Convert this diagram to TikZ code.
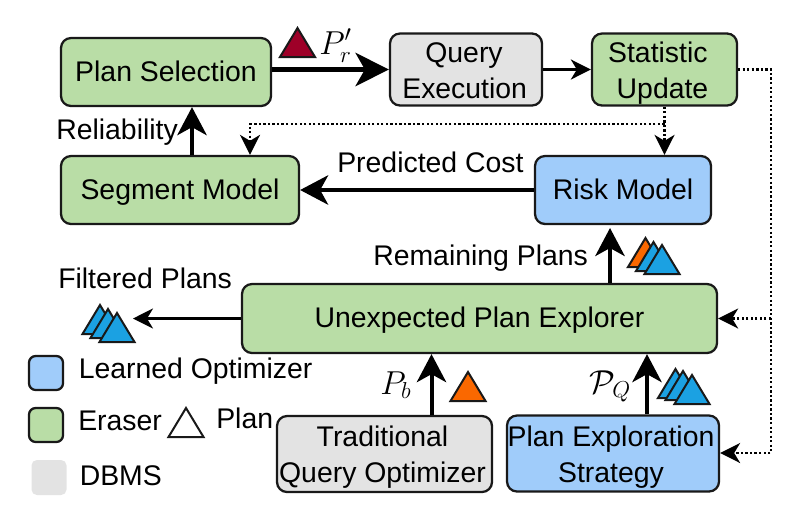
\documentclass[tikz,border=0pt]{standalone}
\usepackage{amsmath,amssymb}
\usepackage{xcolor}
\usepackage{fontspec}
\setmainfont{Liberation Sans}
\usetikzlibrary{arrows.meta, positioning, calc}
\DeclareMathSizes{24.88}{24.88}{17.28}{12}
\definecolor{erasergreen}{HTML}{B9DDA6}
\definecolor{learnedblue}{HTML}{A0CCFA}
\definecolor{dbmsgray}{HTML}{E3E3E3}
\definecolor{planred}{HTML}{9E0028}
\definecolor{planorange}{HTML}{FA6800}
\definecolor{planblue}{HTML}{1BA1E2}
\newdimen\pxu
\pxu=0.75pt
% one plan triangle: visible apex x, apex y, fill colour
\newcommand{\plantri}[3]{\filldraw[fill=#3,draw=black!90,line width=1.5pt,line join=miter] (#1,{#2+2}) -- ({#1+17.5},{#2+31}) -- ({#1-17.5},{#2+31}) -- cycle;}
% one line of a two-line box, set a little low
\newcommand{\boxline}[1]{\raisebox{-2.7pt}[18.9pt][8.1pt]{#1}}
\tikzset{
  box/.style={draw=black!90,line width=1.7pt,rounded corners=7.5pt,inner sep=0pt,align=center,
    font=\fontsize{21.3}{27}\selectfont},
  oneline/.style={text height=18pt,text depth=4pt},
  eraserbox/.style={box,fill=erasergreen},
  learnedbox/.style={box,fill=learnedblue},
  dbmsbox/.style={box,fill=dbmsgray},
  lbl/.style={inner sep=0pt,anchor=base west,font=\fontsize{21.3}{25}\selectfont},
  mathlbl/.style={inner sep=0pt,anchor=base west,font=\fontsize{24.88}{30}\selectfont},
  toparrow/.style={line width=3.4pt,-{Stealth[length=25pt,width=25pt,inset=7pt]}},
  bigarrow/.style={line width=3pt,-{Stealth[length=21pt,width=22pt,inset=6pt]}},
  thinarrow/.style={line width=2pt,-{Stealth[length=15pt,width=15pt,inset=4.5pt]}},
  dotarrow/.style={line width=1.8pt,dash pattern=on 1.7pt off 1.7pt,-{Stealth[length=15pt,width=15pt,inset=4.5pt]}},
}
\begin{document}
\begin{tikzpicture}[x=0.75pt,y=-0.75pt]
  \useasboundingbox (0,0) rectangle (792,519);
  % boxes, top row
  \node[eraserbox,oneline,minimum width=210\pxu,minimum height=68\pxu] (plansel) at (166,72) {Plan Selection};
  \node[dbmsbox,minimum width=152\pxu,minimum height=69\pxu] (queryexec) at (466,69.5) {\boxline{Query\hspace*{3pt}}\\\boxline{Execution\hspace*{2pt}}};
  \node[eraserbox,minimum width=145\pxu,minimum height=69\pxu] (statupd) at (664.5,69.5) {\boxline{Statistic\hspace*{10pt}}\\\boxline{Update\hspace*{3pt}}};
  % middle row
  \node[eraserbox,oneline,minimum width=238\pxu,minimum height=68\pxu] (segmodel) at (180,190) {Segment Model};
  \node[learnedbox,oneline,minimum width=176\pxu,minimum height=68\pxu] (riskmodel) at (623,190) {Risk Model};
  \node[eraserbox,oneline,minimum width=475\pxu,minimum height=69\pxu] (explorer) at (479.5,318.5) {Unexpected Plan Explorer};
  % bottom row
  \node[dbmsbox,minimum width=215\pxu,minimum height=76\pxu] (tradopt) at (384.5,454) {\boxline{Traditional\hspace*{3pt}}\\\boxline{Query Optimizer\hspace*{3pt}}};
  \node[learnedbox,minimum width=212\pxu,minimum height=76\pxu] (explstrat) at (613,453.5) {\boxline{Plan Exploration\hspace*{3pt}}\\\boxline{Strategy\hspace*{3pt}}};
  % legend
  \node[learnedbox,minimum width=34\pxu,minimum height=34\pxu,rounded corners=5pt] (legblue) at (46,373) {};
  \node[eraserbox,minimum width=34\pxu,minimum height=34\pxu,rounded corners=5pt] (leggreen) at (46,425) {};
  \node[fill=dbmsgray,rounded corners=4pt,minimum width=35\pxu,minimum height=35\pxu,inner sep=0pt] (leggray) at (49,477.5) {};
  \node[lbl] (leglearned) at (78.5,378) {Learned Optimizer};
  \node[lbl] (legeraser) at (78,430) {Eraser};
  \node[lbl] (legplan) at (216,428) {Plan};
  \node[lbl] (legdbms) at (79.5,485.5) {DBMS};
  % edge labels
  \node[lbl] (reliab) at (56,139) {Reliability};
  \node[lbl] (predcost) at (337,172) {Predicted Cost};
  \node[lbl] (remplans) at (373,265) {Remaining Plans};
  \node[lbl] (filtplans) at (58,288) {Filtered Plans};
  \node[mathlbl] (prlabel) at (319,54) {$P_r'$};
  \node[mathlbl] (pblabel) at (380,394) {$P_b$};
  \node[mathlbl] (pqlabel) at (589,393) {$\mathcal{P}_Q$};
  % free ends
  \coordinate (fork) at (771,318.5);
  \coordinate (dotturn) at (771,69.5);
  \coordinate (dotlow) at (771,453);
  \coordinate (dotmid) at (664.5,124);
  \coordinate (dotseg) at (250,124);
  \coordinate (filtend) at (133,318.5);
  \coordinate (riskin) at (610,228);
  \coordinate (relx) at (192,0);
  \coordinate (pbx) at (431.5,0);
  \coordinate (pqx) at (647,0);
  % solid arrows
  \draw[toparrow] (plansel.east |- queryexec.west) -- (queryexec.west);
  \draw[thinarrow] (queryexec.east) -- (statupd.west);
  \draw[bigarrow] (relx |- segmodel.north) -- (relx |- plansel.south);
  \draw[bigarrow] (riskmodel.west) -- (segmodel.east);
  \draw[bigarrow] (riskin |- explorer.north) -- (riskin);
  \draw[thinarrow] (explorer.west) -- (filtend);
  \draw[bigarrow] (pbx |- tradopt.north) -- (pbx |- explorer.south);
  \draw[bigarrow] (pqx |- explstrat.north) -- (pqx |- explorer.south);
  % dotted feedback
  \draw[dotarrow] (statupd.south) -- (statupd.south |- riskmodel.north);
  \draw[dotarrow] (dotmid) -- (dotseg) -- (dotseg |- segmodel.north);
  \draw[dotarrow] (statupd.east) -- (dotturn) -- (dotlow) -- (dotlow -| explstrat.east);
  \draw[dotarrow] (fork) -- (fork -| explorer.east);
  % plan triangles
  \plantri{297.5}{26}{planred}
  \plantri{468}{370}{planorange}
  \plantri{186}{406}{white}
  \plantri{645.5}{236}{planorange}
  \plantri{653.5}{240}{planblue}
  \plantri{662}{243}{planblue}
  \plantri{100}{303}{planblue}
  \plantri{108}{307}{planblue}
  \plantri{117}{311}{planblue}
  \plantri{675.5}{367}{planblue}
  \plantri{683}{369}{planblue}
  \plantri{692}{373}{planblue}
\end{tikzpicture}
\end{document}
